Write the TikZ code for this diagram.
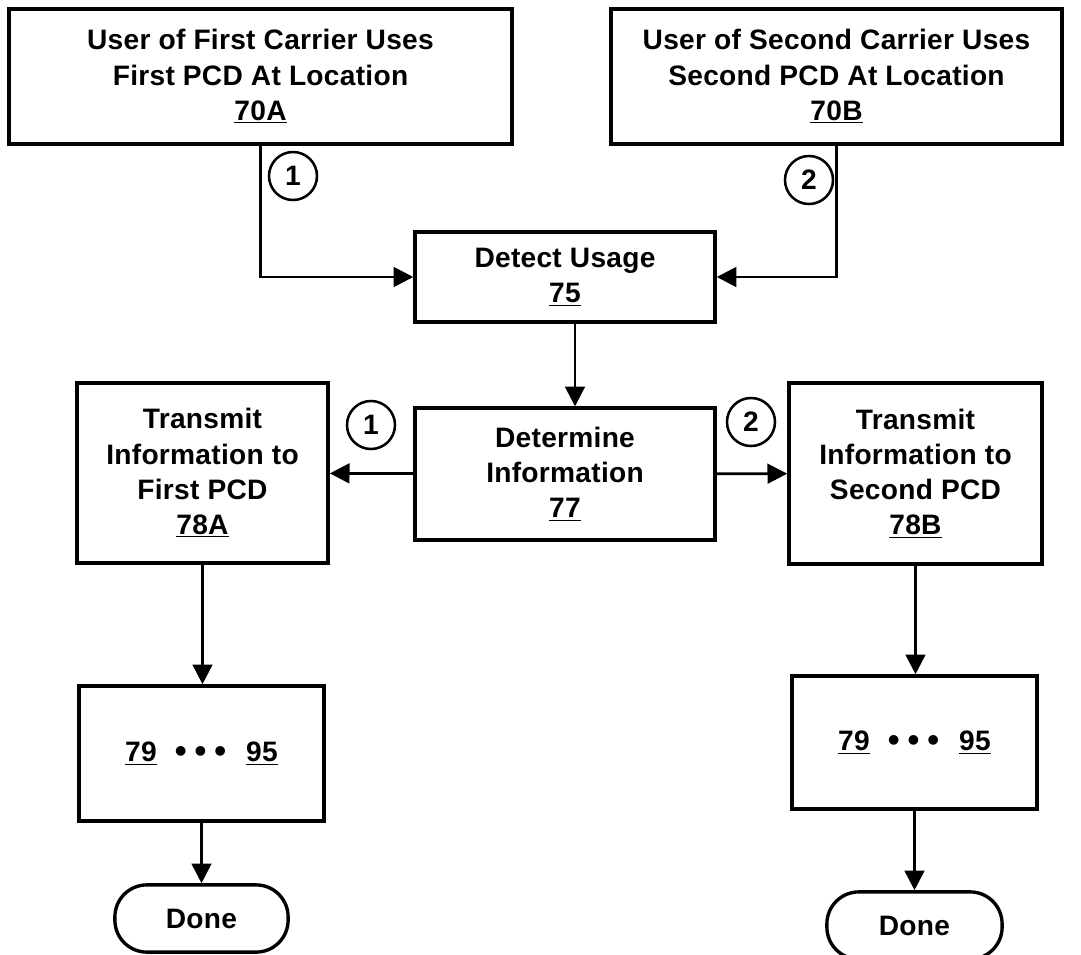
\documentclass[tikz,border=0pt]{standalone}
\usepackage{fontspec}
\setmainfont{Liberation Sans}[LetterSpace=1]
\usetikzlibrary{arrows.meta}
\newcommand{\stepdots}{\raisebox{-0.6pt}{\fontsize{24}{25}\selectfont\textbullet\hspace{0.2cm}\textbullet\hspace{0.2cm}\textbullet}}

\begin{document}
\begin{tikzpicture}[x=0.025cm, y=-0.025cm,
    box/.style={draw, line width=2.4pt, align=center, inner sep=0pt,
      font=\bfseries\fontsize{20}{25}\selectfont},
    num/.style={draw, circle, line width=1.8pt, minimum size=1.2cm, inner sep=0pt,
      font=\bfseries\fontsize{20}{25}\selectfont},
    endbox/.style={box, rounded corners=0.8cm},
    flow/.style={line width=2pt, -{Triangle[length=14pt,width=14pt]}}]
  \useasboundingbox (0,0) rectangle (1081,955);

  \node[box, minimum width=12.58cm, minimum height=3.38cm] (user1) at (260.5,76.5)
    {User of First Carrier Uses\\First PCD At Location\\\underline{70A}};
  \node[box, minimum width=11.28cm, minimum height=3.38cm] (user2) at (836.5,76.5)
    {User of Second Carrier Uses\\Second PCD At Location\\\underline{70B}};
  \node[box, minimum width=7.5cm, minimum height=2.25cm] (detect) at (565,277)
    {Detect Usage\\\underline{75}};
  \node[box, minimum width=7.5cm, minimum height=3.3cm] (determine) at (565,474)
    {Determine\\Information\\\underline{77}};
  \node[box, minimum width=6.28cm, minimum height=4.5cm] (send1) at (202.5,473)
    {Transmit\\Information to\\First PCD\\\underline{78A}};
  \node[box, minimum width=6.33cm, minimum height=4.53cm] (send2) at (915.5,473.5)
    {Transmit\\Information to\\Second PCD\\\underline{78B}};
  \node[box, minimum width=6.13cm, minimum height=3.38cm] (more1) at (201.5,753.5)
    {\underline{79}\hspace{0.45cm}\stepdots\hspace{0.5cm}\underline{95}};
  \node[box, minimum width=6.13cm, minimum height=3.33cm] (more2) at (914.5,742.5)
    {\underline{79}\hspace{0.45cm}\stepdots\hspace{0.5cm}\underline{95}};
  \node[endbox, minimum width=4.33cm, minimum height=1.68cm] (done1) at (201.5,918.5) {Done};
  \node[endbox, minimum width=4.38cm, minimum height=1.68cm] (done2) at (914.5,925.5) {Done};

  \node[num] (mark1) at (293,176) {1};
  \node[num] (mark2) at (809,180) {2};
  \node[num] (mark3) at (371,425) {1};
  \node[num] (mark4) at (751,422) {2};

  \draw[flow] (user1) |- (detect);
  \draw[flow] (user2) |- (detect);
  \draw[flow] ([xshift=0.25cm]detect.south) -- ([xshift=0.25cm]detect.south |- determine.north);
  \draw[flow] (determine) -- (send1);
  \draw[flow] (determine) -- (send2);
  \draw[flow] (send1.south) -- (send1.south |- more1.north);
  \draw[flow] (send2.south) -- (send2.south |- more2.north);
  \draw[flow] (more1) -- (done1);
  \draw[flow] (more2) -- (done2);
\end{tikzpicture}
\end{document}
